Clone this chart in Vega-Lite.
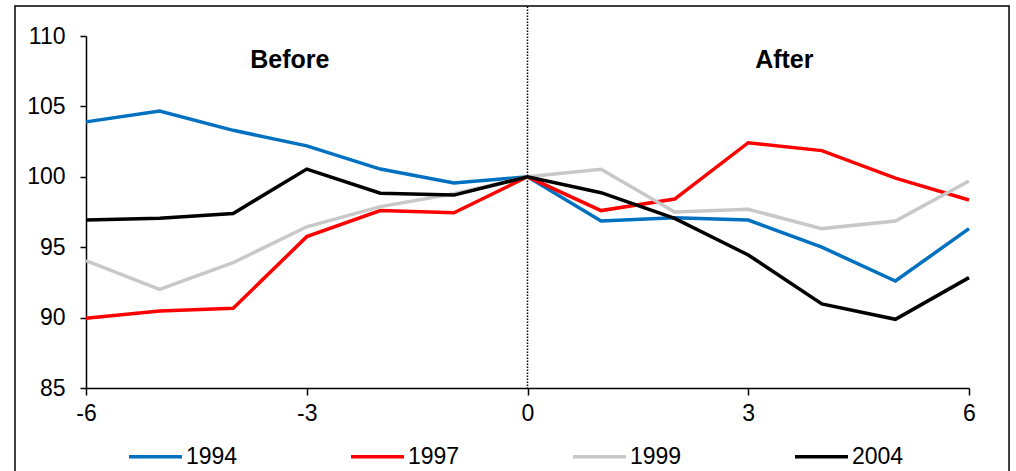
{
  "$schema": "https://vega.github.io/schema/vega-lite/v6.json",
  "autosize": {"type": "none"},
  "width": 883,
  "height": 352,
  "padding": {"left": 86, "top": 36, "right": 47, "bottom": 83},
  "background": "white",
  "config": {
    "view": {"stroke": null},
    "font": "Liberation Sans"
  },
  "layer": [
    {
      "data": {"values": [{"x0": -6.965, "x1": 6.544, "y0": 78.0, "y1": 112.13}]},
      "mark": {"type": "rect", "fill": null, "stroke": "black", "strokeWidth": 1.5},
      "encoding": {
        "x": {"field": "x0", "type": "quantitative", "scale": {"domain": [-6, 6], "nice": false}},
        "x2": {"field": "x1"},
        "y": {"field": "y0", "type": "quantitative", "scale": {"domain": [85, 110], "nice": false, "zero": false}},
        "y2": {"field": "y1"}
      }
    },
    {
      "data": {"values": [{"t": 0, "lo": 85, "hi": 112.1}]},
      "mark": {"type": "rule", "color": "black", "strokeWidth": 1.5, "strokeDash": [1.5, 1.5]},
      "encoding": {
        "x": {"field": "t", "type": "quantitative"},
        "y": {"field": "hi", "type": "quantitative"},
        "y2": {"field": "lo"}
      }
    },
    {
      "data": {"values": [
        {"t": -6, "series": "1994", "v": 103.9},
        {"t": -5, "series": "1994", "v": 104.67},
        {"t": -4, "series": "1994", "v": 103.3},
        {"t": -3, "series": "1994", "v": 102.2},
        {"t": -2, "series": "1994", "v": 100.55},
        {"t": -1, "series": "1994", "v": 99.56},
        {"t": 0, "series": "1994", "v": 100},
        {"t": 1, "series": "1994", "v": 96.86},
        {"t": 2, "series": "1994", "v": 97.1},
        {"t": 3, "series": "1994", "v": 96.93},
        {"t": 4, "series": "1994", "v": 95.0},
        {"t": 5, "series": "1994", "v": 92.6},
        {"t": 6, "series": "1994", "v": 96.32},
        {"t": -6, "series": "1997", "v": 89.95},
        {"t": -5, "series": "1997", "v": 90.47},
        {"t": -4, "series": "1997", "v": 90.66},
        {"t": -3, "series": "1997", "v": 95.75},
        {"t": -2, "series": "1997", "v": 97.6},
        {"t": -1, "series": "1997", "v": 97.45},
        {"t": 0, "series": "1997", "v": 100},
        {"t": 1, "series": "1997", "v": 97.6},
        {"t": 2, "series": "1997", "v": 98.42},
        {"t": 3, "series": "1997", "v": 102.42},
        {"t": 4, "series": "1997", "v": 101.86},
        {"t": 5, "series": "1997", "v": 99.9},
        {"t": 6, "series": "1997", "v": 98.35},
        {"t": -6, "series": "1999", "v": 94.04},
        {"t": -5, "series": "1999", "v": 92.0},
        {"t": -4, "series": "1999", "v": 93.9},
        {"t": -3, "series": "1999", "v": 96.45},
        {"t": -2, "series": "1999", "v": 97.88},
        {"t": -1, "series": "1999", "v": 98.8},
        {"t": 0, "series": "1999", "v": 100},
        {"t": 1, "series": "1999", "v": 100.53},
        {"t": 2, "series": "1999", "v": 97.5},
        {"t": 3, "series": "1999", "v": 97.69},
        {"t": 4, "series": "1999", "v": 96.32},
        {"t": 5, "series": "1999", "v": 96.86},
        {"t": 6, "series": "1999", "v": 99.7},
        {"t": -6, "series": "2004", "v": 96.93},
        {"t": -5, "series": "2004", "v": 97.05},
        {"t": -4, "series": "2004", "v": 97.4},
        {"t": -3, "series": "2004", "v": 100.55},
        {"t": -2, "series": "2004", "v": 98.83},
        {"t": -1, "series": "2004", "v": 98.7},
        {"t": 0, "series": "2004", "v": 100},
        {"t": 1, "series": "2004", "v": 98.87},
        {"t": 2, "series": "2004", "v": 97.05},
        {"t": 3, "series": "2004", "v": 94.45},
        {"t": 4, "series": "2004", "v": 90.97},
        {"t": 5, "series": "2004", "v": 89.88},
        {"t": 6, "series": "2004", "v": 92.84}
      ]},
      "mark": {"type": "line", "strokeWidth": 3.5, "strokeJoin": "miter"},
      "encoding": {
        "x": {"field": "t", "type": "quantitative",
              "axis": {"title": null, "grid": false, "values": [-6, -3, 0, 3, 6], "labelExpr": "'' + datum.value", "labelFlush": false,
                       "domainColor": "black", "domainWidth": 1.5, "tickColor": "black", "tickWidth": 1.5, "tickSize": 7,
                       "labelPadding": 7, "labelFontSize": 23, "labelFont": "Liberation Sans", "labelColor": "black"}},
        "y": {"field": "v", "type": "quantitative",
              "axis": {"title": null, "grid": false, "values": [85, 90, 95, 100, 105, 110], "labelExpr": "'' + datum.value",
                       "domainColor": "black", "domainWidth": 1.5, "tickColor": "black", "tickWidth": 1.5, "tickSize": 6,
                       "labelPadding": 15, "labelFontSize": 23, "labelFont": "Liberation Sans", "labelColor": "black"}},
        "color": {"field": "series", "type": "nominal",
                  "scale": {"domain": ["1994", "1997", "1999", "2004"], "range": ["#0070C0", "#FF0000", "#C8C8C8", "#000000"]},
                  "legend": {"title": null, "orient": "none", "direction": "horizontal", "legendX": 41, "legendY": 392,
                             "symbolType": "stroke", "symbolSize": 2809, "symbolStrokeWidth": 3.5,
                             "labelFontSize": 23, "labelFont": "Liberation Sans", "labelColor": "black", "labelOffset": 2, "columnPadding": 106}}
      }
    },
    {
      "data": {"values": [
        {"label": "Before", "t": -3.23, "v": 108.3},
        {"label": "After", "t": 3.49, "v": 108.3}
      ]},
      "mark": {"type": "text", "fontSize": 25, "fontWeight": "bold", "font": "Liberation Sans", "align": "center", "baseline": "middle", "color": "black"},
      "encoding": {
        "x": {"field": "t", "type": "quantitative"},
        "y": {"field": "v", "type": "quantitative"},
        "text": {"field": "label"}
      }
    }
  ]
}
